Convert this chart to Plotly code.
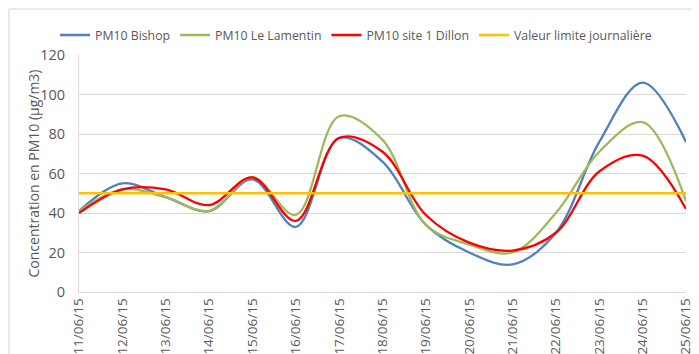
import plotly.graph_objects as go

dates = ["11/06/15", "12/06/15", "13/06/15", "14/06/15", "15/06/15", "16/06/15", "17/06/15",
         "18/06/15", "19/06/15", "20/06/15", "21/06/15", "22/06/15", "23/06/15", "24/06/15", "25/06/15"]
bishop = [41, 55, 48, 41, 57, 33, 78, 66, 34, 20, 14, 30, 76, 106, 76]
lamentin = [41, 52, 48, 41, 58, 39, 89, 77, 34, 24, 20, 40, 71, 86, 46]
dillon = [40, 52, 52, 44, 58, 36, 78, 71, 39, 25, 21, 30, 61, 69, 42]
limite = [50] * len(dates)

names = ["PM10 Bishop", "PM10 Le Lamentin", "PM10 site 1 Dillon", "Valeur limite journalière"]
colors = ["#4F81BD", "#9BBB59", "#FF0000", "#FFC000"]
series = [bishop, lamentin, dillon, limite]
y_title = "Concentration en PM10 (µg/m3)"

fig = go.Figure()
for name, col, vals in zip(names, colors, series):
    shape = "linear" if name.startswith("Valeur") else "spline"
    fig.add_trace(go.Scatter(x=dates, y=vals, name=name, mode="lines",
                             line=dict(color=col, width=2.3, shape=shape, smoothing=1.0)))

# the page body adds an 8px offset, so the figure is drawn 8px smaller
W, H = 691, 346
L, R, T, B = 71, 13, 47, 62
PW, PH = W - L - R, H - T - B

fig.update_layout(
    width=W, height=H,
    margin=dict(l=L, r=R, t=T, b=B, autoexpand=False),
    paper_bgcolor="white", plot_bgcolor="white",
    font=dict(family="Open Sans, Liberation Sans, sans-serif", size=12, color="#595959"),
    showlegend=True,
    legend=dict(orientation="h", xref="container", yref="container", x=348 / W, y=1 - 27 / H,
                xanchor="center", yanchor="middle", font=dict(size=12.3, color="#595959"),
                itemwidth=30, tracegroupgap=0),
    xaxis=dict(type="category", tickangle=-90, showgrid=False, showline=True,
               linecolor="#d9d9d9", ticks="", tickfont=dict(size=13.5, color="#595959"),
               range=[0, len(dates) - 1], fixedrange=True),
    yaxis=dict(range=[0, 120], dtick=20, showgrid=True, gridcolor="#d9d9d9", showline=True,
               linecolor="#d9d9d9", zeroline=False, ticks="", ticklabelstandoff=10,
               tickfont=dict(size=14.5, color="#595959")),
)

fig.add_annotation(text=y_title, textangle=-90, xref="paper", yref="paper",
                   x=(25 - L) / PW, y=0.5, xanchor="center", yanchor="middle", showarrow=False,
                   font=dict(size=14, color="#595959"))

# light chart-area border (top / left / right edges visible)
fig.add_shape(type="rect", xref="paper", yref="paper",
              x0=(1 - L) / PW, x1=(689 - L) / PW,
              y0=-(H + 10 - T - PH) / PH, y1=1 + (T - 1) / PH,
              line=dict(color="#d4d4d4", width=1), fillcolor="rgba(0,0,0,0)", layer="above")

fig.write_html("out.html")
